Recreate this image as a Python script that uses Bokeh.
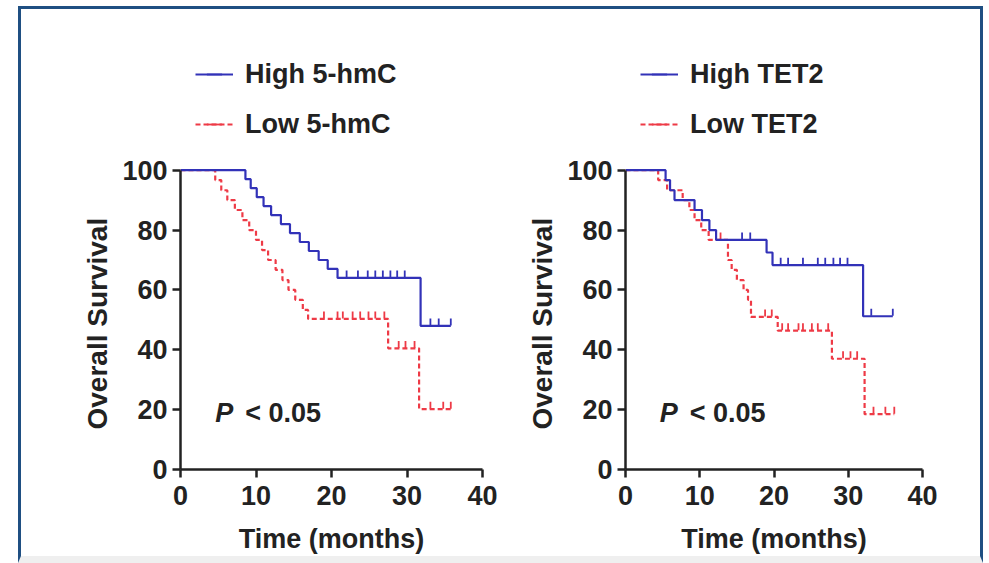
import numpy as np
from bokeh.plotting import figure
from bokeh.layouts import row
from bokeh.models import Range1d, Legend, LegendItem, Title
from bokeh.core.properties import value
from bokeh.embed import file_html
from bokeh.resources import INLINE

# ---- Kaplan-Meier data: event times (months) and survival (%) after each event ----
# Panel A: 5-hmC
hmc_high_times = [8.6, 9.3, 10.1, 11.0, 12.0, 13.3, 14.5, 15.8, 17.0, 18.3, 19.5, 20.8, 31.8]
hmc_high_surv = [97.0, 94.0, 91.0, 88.0, 85.0, 82.0, 79.0, 76.0, 73.0, 70.0, 67.0, 64.0, 48.0]
hmc_high_end = 35.8
hmc_high_censored = [22.0, 23.5, 24.8, 25.8, 26.8, 27.8, 28.7, 29.7, 33.1, 34.2, 35.8]

hmc_low_times = [4.6, 5.4, 6.2, 7.2, 8.2, 9.1, 10.0, 10.8, 11.6, 12.6, 13.5, 14.3, 15.2, 16.2, 16.9, 27.5, 31.6]
hmc_low_surv = [96.7, 93.3, 90.0, 86.7, 83.3, 80.0, 76.7, 73.3, 70.0, 66.7, 63.3, 60.0, 56.7, 53.3, 50.3, 40.5, 20.2]
hmc_low_end = 35.8
hmc_low_censored = [19.0, 20.8, 21.5, 22.8, 23.8, 24.9, 25.8, 27.0, 28.9, 29.8, 31.0, 33.1, 34.8, 35.8]

# Panel B: TET2
tet2_high_times = [5.4, 6.0, 6.6, 9.3, 10.3, 11.3, 12.2, 19.0, 19.8, 32.0]
tet2_high_surv = [96.7, 93.3, 90.0, 86.7, 83.3, 80.0, 76.7, 72.5, 68.3, 51.2]
tet2_high_end = 36.0
tet2_high_censored = [15.7, 16.8, 20.9, 21.9, 23.9, 25.9, 26.9, 28.0, 28.9, 29.9, 33.1, 36.0]

tet2_low_times = [4.4, 5.6, 7.7, 8.6, 9.3, 10.2, 11.2, 13.8, 14.3, 15.0, 15.9, 16.5, 16.9, 20.5, 27.8, 32.2]
tet2_low_surv = [96.7, 93.3, 90.0, 86.7, 83.3, 80.0, 76.7, 70.0, 66.7, 63.3, 60.0, 56.7, 51.0, 46.4, 37.0, 18.5]
tet2_low_end = 36.2
tet2_low_censored = [12.8, 18.8, 19.7, 21.1, 21.9, 23.3, 23.9, 25.1, 25.9, 27.3, 29.3, 30.3, 31.2, 33.4, 35.0, 36.2]

x_ticks = [0, 10, 20, 30, 40]
y_ticks = [0, 20, 40, 60, 80, 100]
p_value_text = ("P", "< 0.05")

BLUE = "#3232b8"
RED = "#ee3a46"
INK = "#222222"
FONT = "Liberation Sans"
FSIZE = "27px"


def step_xy(times, surv, end):
    xs = [0.0] + list(times) + [end]
    ys = [100.0] + list(surv) + [surv[-1]]
    return xs, ys


def surv_at(times, surv, t):
    idx = np.searchsorted(np.asarray(times), np.asarray(t), side="right") - 1
    vals = np.where(idx >= 0, np.asarray(surv)[np.clip(idx, 0, None)], 100.0)
    return vals


def km_panel(width, left, right, high, low, labels):
    # the plotting area reaches up to hold the legend; the y axis itself stops at 100
    p = figure(width=width, height=547, x_range=Range1d(0, 40), y_range=Range1d(0, 146.67),
               output_backend="svg", toolbar_location=None,
               min_border_left=left, min_border_right=right,
               min_border_top=21, min_border_bottom=86,
               background_fill_color="white", border_fill_color="white")
    p.outline_line_color = None
    p.xgrid.visible = False
    p.ygrid.visible = False

    renderers = {}
    for key, (times, surv, end, cens), color, dash in (
        ("low", low, RED, "5 3"),
        ("high", high, BLUE, "solid"),
    ):
        xs, ys = step_xy(times, surv, end)
        line = p.step(xs, ys, mode="after", line_color=color, line_width=2.2, line_dash=dash)
        cy = surv_at(times, surv, cens) + 1.3
        marks = p.scatter(cens, cy, marker="dash", angle=np.pi / 2, size=7,
                          line_color=color, line_width=1.8)
        renderers[key] = (line, marks)

    legend = Legend(
        items=[LegendItem(label=labels[0], renderers=list(renderers["high"])),
               LegendItem(label=labels[1], renderers=list(renderers["low"]))],
        location=(15, 320), orientation="vertical", padding=0, margin=0, spacing=0,
        glyph_width=38, glyph_height=50, label_height=50, label_standoff=12,
        label_text_font=FONT, label_text_font_style="bold", label_text_font_size=FSIZE,
        label_text_color=INK, border_line_color=None, background_fill_alpha=0,
    )
    p.add_layout(legend)

    for ax in (p.xaxis[0], p.yaxis[0]):
        ax.axis_line_width = 2.5
        ax.axis_line_color = INK
        ax.major_tick_line_width = 2.5
        ax.major_tick_line_color = INK
        ax.major_tick_out = 8
        ax.major_tick_in = 0
        ax.minor_tick_line_color = None
        ax.major_label_text_font = FONT
        ax.major_label_text_font_style = "bold"
        ax.major_label_text_font_size = FSIZE
        ax.major_label_text_color = INK
        ax.axis_label_text_font = FONT
        ax.axis_label_text_font_style = "bold"
        ax.axis_label_text_font_size = FSIZE
        ax.axis_label_text_color = INK
    p.xaxis.ticker = x_ticks
    p.yaxis.ticker = y_ticks
    p.yaxis.bounds = (0, 100)
    p.xaxis.major_label_standoff = 8
    p.yaxis.major_label_standoff = 5
    p.xaxis.axis_label = "Time (months)"
    p.xaxis.axis_label_standoff = 16

    # y label placed beside the 0-100 span of the axis rather than the whole area
    ylab = Title(text="Overall Survival", align="left", offset=40, standoff=14,
                 text_font=FONT, text_font_style="bold", text_font_size="28px",
                 text_color=INK)
    p.add_layout(ylab, "left")

    p.text(x=[4.6], y=[19], text=[p_value_text[0]], text_font=value(FONT),
           text_font_style="bold italic", text_font_size=FSIZE, text_baseline="middle",
           text_color=INK)
    p.text(x=[4.6], y=[19], text=[p_value_text[1]], x_offset=30, text_font=value(FONT),
           text_font_style="bold", text_font_size=FSIZE, text_baseline="middle",
           text_color=INK)
    return p


p1 = km_panel(494, 159, 33,
              (hmc_high_times, hmc_high_surv, hmc_high_end, hmc_high_censored),
              (hmc_low_times, hmc_low_surv, hmc_low_end, hmc_low_censored),
              ("High 5-hmC", "Low 5-hmC"))
p2 = km_panel(465, 110, 58,
              (tet2_high_times, tet2_high_surv, tet2_high_end, tet2_high_censored),
              (tet2_low_times, tet2_low_surv, tet2_low_end, tet2_low_censored),
              ("High TET2", "Low TET2"))

frame = "3px solid #1f4f82"
layout = row(p1, p2, spacing=0, margin=(6, 0, 0, 18),
             styles={"border-top": frame, "border-left": frame, "border-right": frame,
                     "border-bottom": "7px solid #efefef", "background-color": "white"})

open("out.html", "w").write(file_html(layout, INLINE))
